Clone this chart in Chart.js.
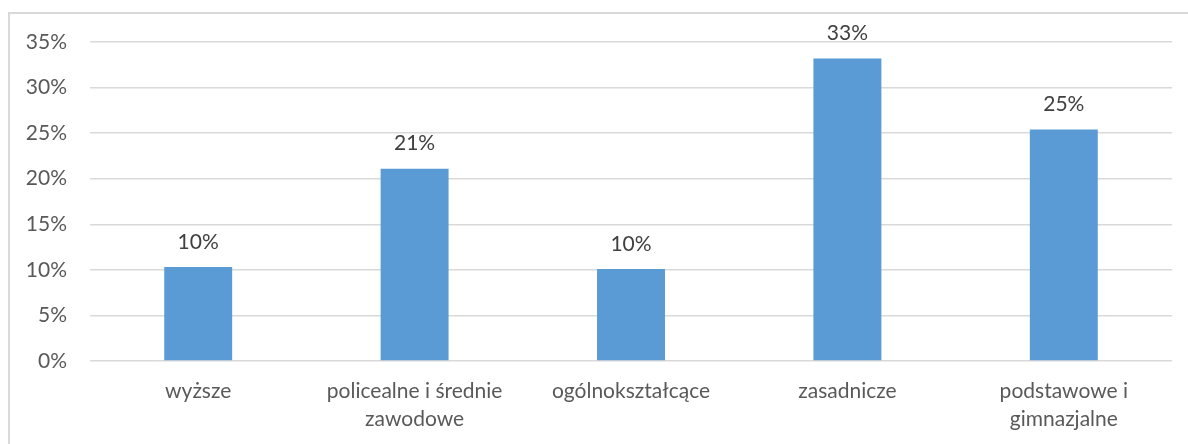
<!DOCTYPE html>
<html>
<head>
  <meta charset="utf-8">
  <title>Wykształcenie</title>
  <script src="https://cdn.jsdelivr.net/npm/chart.js"></script>
  <style>
    html, body { margin: 0; padding: 0; background: #fff; }
    #wrap { position: relative; width: 1188px; height: 444px; overflow: hidden; }
    #frame { position: absolute; left: 8px; top: 12px; width: 1200px; height: 460px;
             border-top: 2px solid #d9d9d9; border-left: 2px solid #d9d9d9; box-sizing: border-box; }
    #myChart { position: absolute; left: 0; top: 0; }
  </style>
  <script>
    const categories = [
      'wyższe',
      ['policealne i średnie', 'zawodowe'],
      'ogólnokształcące',
      'zasadnicze',
      ['podstawowe i', 'gimnazjalne']
    ];
    const shares = [10.3, 21.1, 10.1, 33.2, 25.4];
    const yTicks = { min: 0, max: 35, step: 5 };

    const fontFamily = 'Lato, "Open Sans", sans-serif';

    // labels above each bar, positioned from the bar elements
    const valueLabels = {
      id: 'valueLabels',
      afterDatasetsDraw(chart) {
        const ctx = chart.ctx;
        const meta = chart.getDatasetMeta(0);
        ctx.save();
        ctx.font = '21px ' + fontFamily;
        ctx.fillStyle = '#404040';
        ctx.textAlign = 'center';
        ctx.textBaseline = 'middle';
        meta.data.forEach((bar, i) => {
          ctx.fillText(Math.round(shares[i]) + '%', bar.x, bar.y - 25);
        });
        ctx.restore();
      }
    };

    window.onload = function() {
      const ctx = document.getElementById('myChart').getContext('2d');
      new Chart(ctx, {
        type: 'bar',
        data: {
          labels: categories,
          datasets: [{
            data: shares,
            backgroundColor: '#5b9bd5',
            borderWidth: 0,
            categoryPercentage: 1,
            barPercentage: 0.314
          }]
        },
        options: {
          responsive: false,
          animation: false,
          layout: { padding: { top: 42, right: 16, left: 0, bottom: 0 } },
          plugins: {
            legend: { display: false },
            tooltip: { enabled: false }
          },
          scales: {
            x: {
              grid: { display: false, drawTicks: false },
              border: { display: false },
              ticks: {
                color: '#595959',
                padding: 17,
                maxRotation: 0,
                autoSkip: false,
                font: { family: fontFamily, size: 21, lineHeight: 1.3 }
              },
              afterFit: s => { s.height = 83; }
            },
            y: {
              min: yTicks.min,
              max: yTicks.max,
              grid: { color: '#d9d9d9', lineWidth: 1.5, drawTicks: false },
              border: { display: false },
              ticks: {
                stepSize: yTicks.step,
                color: '#595959',
                padding: 23,
                font: { family: fontFamily, size: 21 },
                callback: v => v + '%'
              },
              afterFit: s => { s.width = 90; }
            }
          }
        },
        plugins: [valueLabels]
      });
    };
  </script>
</head>
<body>
<div id="wrap">
  <div id="frame"></div>
  <canvas id="myChart" width="1188" height="444"></canvas>
</div>
</body>
</html>
